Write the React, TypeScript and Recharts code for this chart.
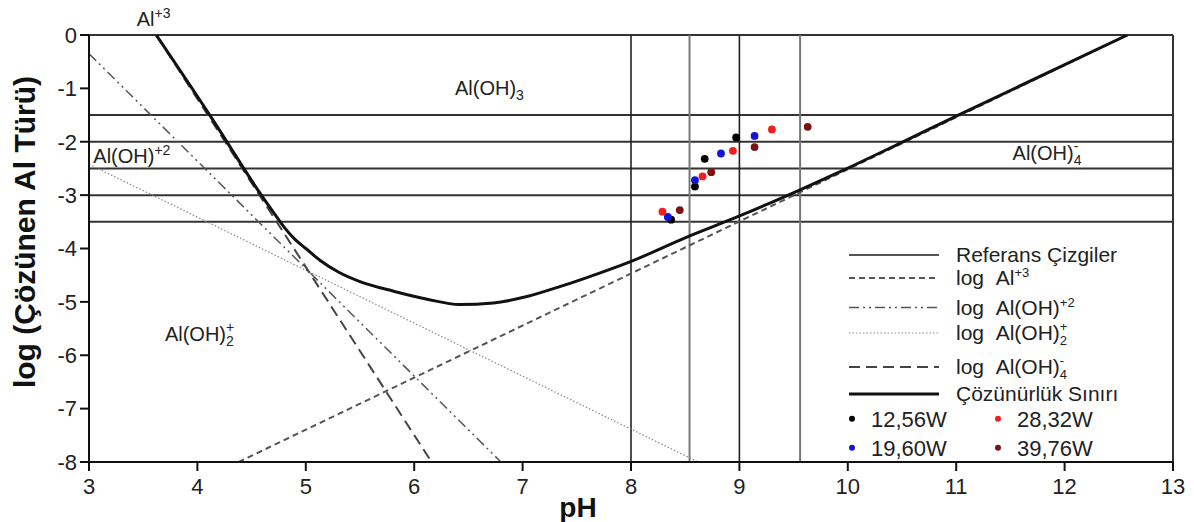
import {
  ComposedChart,
  Line,
  Scatter,
  XAxis,
  YAxis,
  ReferenceLine,
  ReferenceDot,
  Legend,
} from 'recharts';

const FONT = '"Liberation Sans", Arial, sans-serif';

const PH_TICKS = [3, 4, 5, 6, 7, 8, 9, 10, 11, 12, 13];
const LOG_TICKS = [0, -1, -2, -3, -4, -5, -6, -7, -8];

// reference grid lines ("Referans Çizgiler")
const REF_LOG_LEVELS = [-1.5, -2, -2.5, -3, -3.5];
const REF_PH_BLACK = [8, 9];
const REF_PH_GRAY = [8.54, 9.56];

// solubility limit (Çözünürlük Sınırı)
const SOL_PH = [3.62, 4.12, 4.59, 4.7, 4.8, 4.9, 5.0, 5.13, 5.3, 5.5, 5.81, 6.12, 6.42, 6.73, 7.04, 7.35, 7.71, 7.99, 8.51, 8.99, 9.56, 9.93, 10.48, 11.02, 12.58];
const SOL_LOG = [0, -1.52, -3.0, -3.32, -3.6, -3.83, -4.0, -4.22, -4.44, -4.62, -4.8, -4.95, -5.05, -5.02, -4.9, -4.71, -4.46, -4.25, -3.79, -3.4, -2.9, -2.56, -2.03, -1.5, 0];

// species lines, named after the legend entry that carries their style
const AL3_PH = [4.38, 12.58];
const AL3_LOG = [-8, 0];
const ALOH_2_PH = [3.0, 6.8];
const ALOH_2_LOG = [-0.35, -8];
const ALOH2_PH = [3.0, 8.62];
const ALOH2_LOG = [-2.42, -8];
const ALOH4_PH = [3.62, 6.16];
const ALOH4_LOG = [0, -8];

// measurements
const W1256_PH = [8.37, 8.59, 8.68, 8.97];
const W1256_LOG = [-3.46, -2.84, -2.32, -1.92];
const W1960_PH = [8.34, 8.59, 8.83, 9.14];
const W1960_LOG = [-3.41, -2.72, -2.22, -1.89];
const W2832_PH = [8.29, 8.66, 8.94, 9.3];
const W2832_LOG = [-3.31, -2.65, -2.17, -1.77];
const W3976_PH = [8.45, 8.74, 9.14, 9.63];
const W3976_LOG = [-3.28, -2.57, -2.1, -1.72];

const toPoints = (xs: number[], ys: number[]) => xs.map((x, i) => ({ x, y: ys[i] }));

const solubility = toPoints(SOL_PH, SOL_LOG);
const al3 = toPoints(AL3_PH, AL3_LOG);
const aloh_2 = toPoints(ALOH_2_PH, ALOH_2_LOG);
const aloh2 = toPoints(ALOH2_PH, ALOH2_LOG);
const aloh4 = toPoints(ALOH4_PH, ALOH4_LOG);

const dotSeries = [
  { name: '12,56W', color: '#000000', data: toPoints(W1256_PH, W1256_LOG) },
  { name: '19,60W', color: '#1414d2', data: toPoints(W1960_PH, W1960_LOG) },
  { name: '28,32W', color: '#f01e1e', data: toPoints(W2832_PH, W2832_LOG) },
  { name: '39,76W', color: '#7a1414', data: toPoints(W3976_PH, W3976_LOG) },
];

const STYLE = {
  ref: { stroke: '#555', width: 2, dash: undefined },
  al3: { stroke: '#555', width: 2, dash: '6 4' },
  aloh_2: { stroke: '#555', width: 1.5, dash: '10 4 2 4 2 4' },
  aloh2: { stroke: '#888', width: 1.2, dash: '1.5 2' },
  aloh4: { stroke: '#444', width: 2, dash: '11 6' },
  sol: { stroke: '#111', width: 3, dash: undefined },
};

function Chem({ base, sub, sup, size = 13 }: { base: string; sub?: string; sup?: string; size?: number }) {
  return (
    <>
      <tspan>{base}</tspan>
      {sub && (
        <tspan fontSize={size} dy={5}>
          {sub}
        </tspan>
      )}
      {sup && (
        <tspan fontSize={size} dx={sub ? -size * 0.56 : 0} dy={sub ? -14 : -8}>
          {sup}
        </tspan>
      )}
    </>
  );
}

// region labels: [pH, log, base, sub, sup]
const REGION_LABELS: [number, number, string, string | undefined, string | undefined][] = [
  [3.44, 0.17, 'Al', undefined, '+3'],
  [6.376, -1.12, 'Al(OH)', '3', undefined],
  [3.04, -2.4, 'Al(OH)', undefined, '+2'],
  [11.52, -2.35, 'Al(OH)', '4', '-'],
  [3.7, -5.74, 'Al(OH)', '2', '+'],
];

const legendRows = [
  { style: STYLE.ref, y: 15, text: <tspan>Referans Çizgiler</tspan> },
  { style: STYLE.al3, y: 38, text: <Chem base={'log\u00a0\u00a0Al'} sup="+3" /> },
  { style: STYLE.aloh_2, y: 67.5, text: <Chem base={'log\u00a0\u00a0Al(OH)'} sup="+2" /> },
  { style: STYLE.aloh2, y: 93, text: <Chem base={'log\u00a0\u00a0Al(OH)'} sub="2" sup="+" /> },
  { style: STYLE.aloh4, y: 127, text: <Chem base={'log\u00a0\u00a0Al(OH)'} sub="4" sup="-" /> },
  { style: STYLE.sol, y: 154, text: <tspan>Çözünürlük Sınırı</tspan> },
];

const legendDots = [
  { i: 0, x: 12, y: 178.8 },
  { i: 2, x: 158, y: 178.8 },
  { i: 1, x: 12, y: 207.7 },
  { i: 3, x: 158, y: 207.7 },
];

function renderLegend() {
  return (
    <svg width={300} height={222} style={{ fontFamily: FONT }}>
      {legendRows.map((r, k) => (
        <g key={k}>
          <line x1={9} x2={99} y1={r.y} y2={r.y} stroke={r.style.stroke} strokeWidth={r.style.width} strokeDasharray={r.style.dash} />
          <text x={116} y={r.y + 7} fontSize={21} fill="#222">
            {r.text}
          </text>
        </g>
      ))}
      {legendDots.map((d) => (
        <g key={d.i}>
          <circle cx={d.x} cy={d.y} r={3} fill={dotSeries[d.i].color} />
          <text x={d.x + 19} y={d.y + 8} fontSize={22} fill="#222">
            {dotSeries[d.i].name}
          </text>
        </g>
      ))}
    </svg>
  );
}

const dotShape = (color: string) => (p: any) => <circle cx={p.cx} cy={p.cy} r={3.9} fill={color} />;

export default function App() {
  const tick = { fontSize: 22, fill: '#222', fontFamily: FONT };
  return (
    <div style={{ position: 'absolute', left: 0, top: 0, width: 1194, height: 522, background: '#fff' }}>
      <ComposedChart width={1194} height={522} margin={{ top: 35, right: 21, left: 29, bottom: 20 }}>
        <XAxis
          type="number"
          dataKey="x"
          domain={[3, 13]}
          ticks={PH_TICKS}
          interval={0}
          allowDataOverflow
          height={40}
          tickSize={9}
          tickMargin={7}
          tick={tick}
          stroke="#111"
          strokeWidth={2}
          label={() => (
            <text x={578} y={517} textAnchor="middle" fontSize={28} fontWeight="bold" fontFamily={FONT} fill="#111">
              pH
            </text>
          )}
        />
        <YAxis
          type="number"
          dataKey="y"
          domain={[-8, 0]}
          ticks={LOG_TICKS}
          interval={0}
          allowDataOverflow
          width={60}
          tickSize={9}
          tickMargin={3}
          tick={tick}
          stroke="#111"
          strokeWidth={2}
          label={() => (
            <text
              transform="translate(35, 232) rotate(-90)"
              textAnchor="middle"
              fontSize={30}
              fontWeight="bold"
              fontFamily={FONT}
              fill="#111"
            >
              log (Çözünen Al Türü)
            </text>
          )}
        />

        {REF_LOG_LEVELS.map((v) => (
          <ReferenceLine key={`h${v}`} y={v} stroke="#333" strokeWidth={2} />
        ))}
        <ReferenceLine y={0} stroke="#333" strokeWidth={2} />
        <ReferenceLine x={13} stroke="#333" strokeWidth={2} />
        {REF_PH_BLACK.map((v) => (
          <ReferenceLine key={`v${v}`} x={v} stroke="#222" strokeWidth={1.6} />
        ))}
        {REF_PH_GRAY.map((v) => (
          <ReferenceLine key={`g${v}`} x={v} stroke="#777" strokeWidth={2} />
        ))}

        <Line data={aloh2} dataKey="y" type="linear" dot={false} stroke={STYLE.aloh2.stroke} strokeWidth={STYLE.aloh2.width} strokeDasharray={STYLE.aloh2.dash} isAnimationActive={false} legendType="none" />
        <Line data={aloh_2} dataKey="y" type="linear" dot={false} stroke={STYLE.aloh_2.stroke} strokeWidth={STYLE.aloh_2.width} strokeDasharray={STYLE.aloh_2.dash} isAnimationActive={false} legendType="none" />
        <Line data={aloh4} dataKey="y" type="linear" dot={false} stroke={STYLE.aloh4.stroke} strokeWidth={STYLE.aloh4.width} strokeDasharray={STYLE.aloh4.dash} isAnimationActive={false} legendType="none" />
        <Line data={al3} dataKey="y" type="linear" dot={false} stroke={STYLE.al3.stroke} strokeWidth={STYLE.al3.width} strokeDasharray={STYLE.al3.dash} isAnimationActive={false} legendType="none" />
        <Line data={solubility} dataKey="y" type="monotone" dot={false} stroke={STYLE.sol.stroke} strokeWidth={STYLE.sol.width} isAnimationActive={false} legendType="none" />

        {dotSeries.map((s) => (
          <Scatter key={s.name} name={s.name} data={s.data} dataKey="y" fill={s.color} shape={dotShape(s.color)} isAnimationActive={false} />
        ))}

        {REGION_LABELS.map(([x, y, base, sub, sup]) => (
          <ReferenceDot
            key={`${base}${x}`}
            x={x}
            y={y}
            r={0}
            ifOverflow="visible"
            shape={(p: any) => (
              <text x={p.cx} y={p.cy} fontSize={20} fontFamily={FONT} fill="#222">
                <Chem base={base} sub={sub} sup={sup} size={14} />
              </text>
            )}
          />
        ))}

        <Legend
          layout="horizontal"
          verticalAlign="middle"
          align="center"
          content={renderLegend}
          wrapperStyle={{ left: 840, top: 240, width: 300, height: 222 }}
        />
      </ComposedChart>
    </div>
  );
}
